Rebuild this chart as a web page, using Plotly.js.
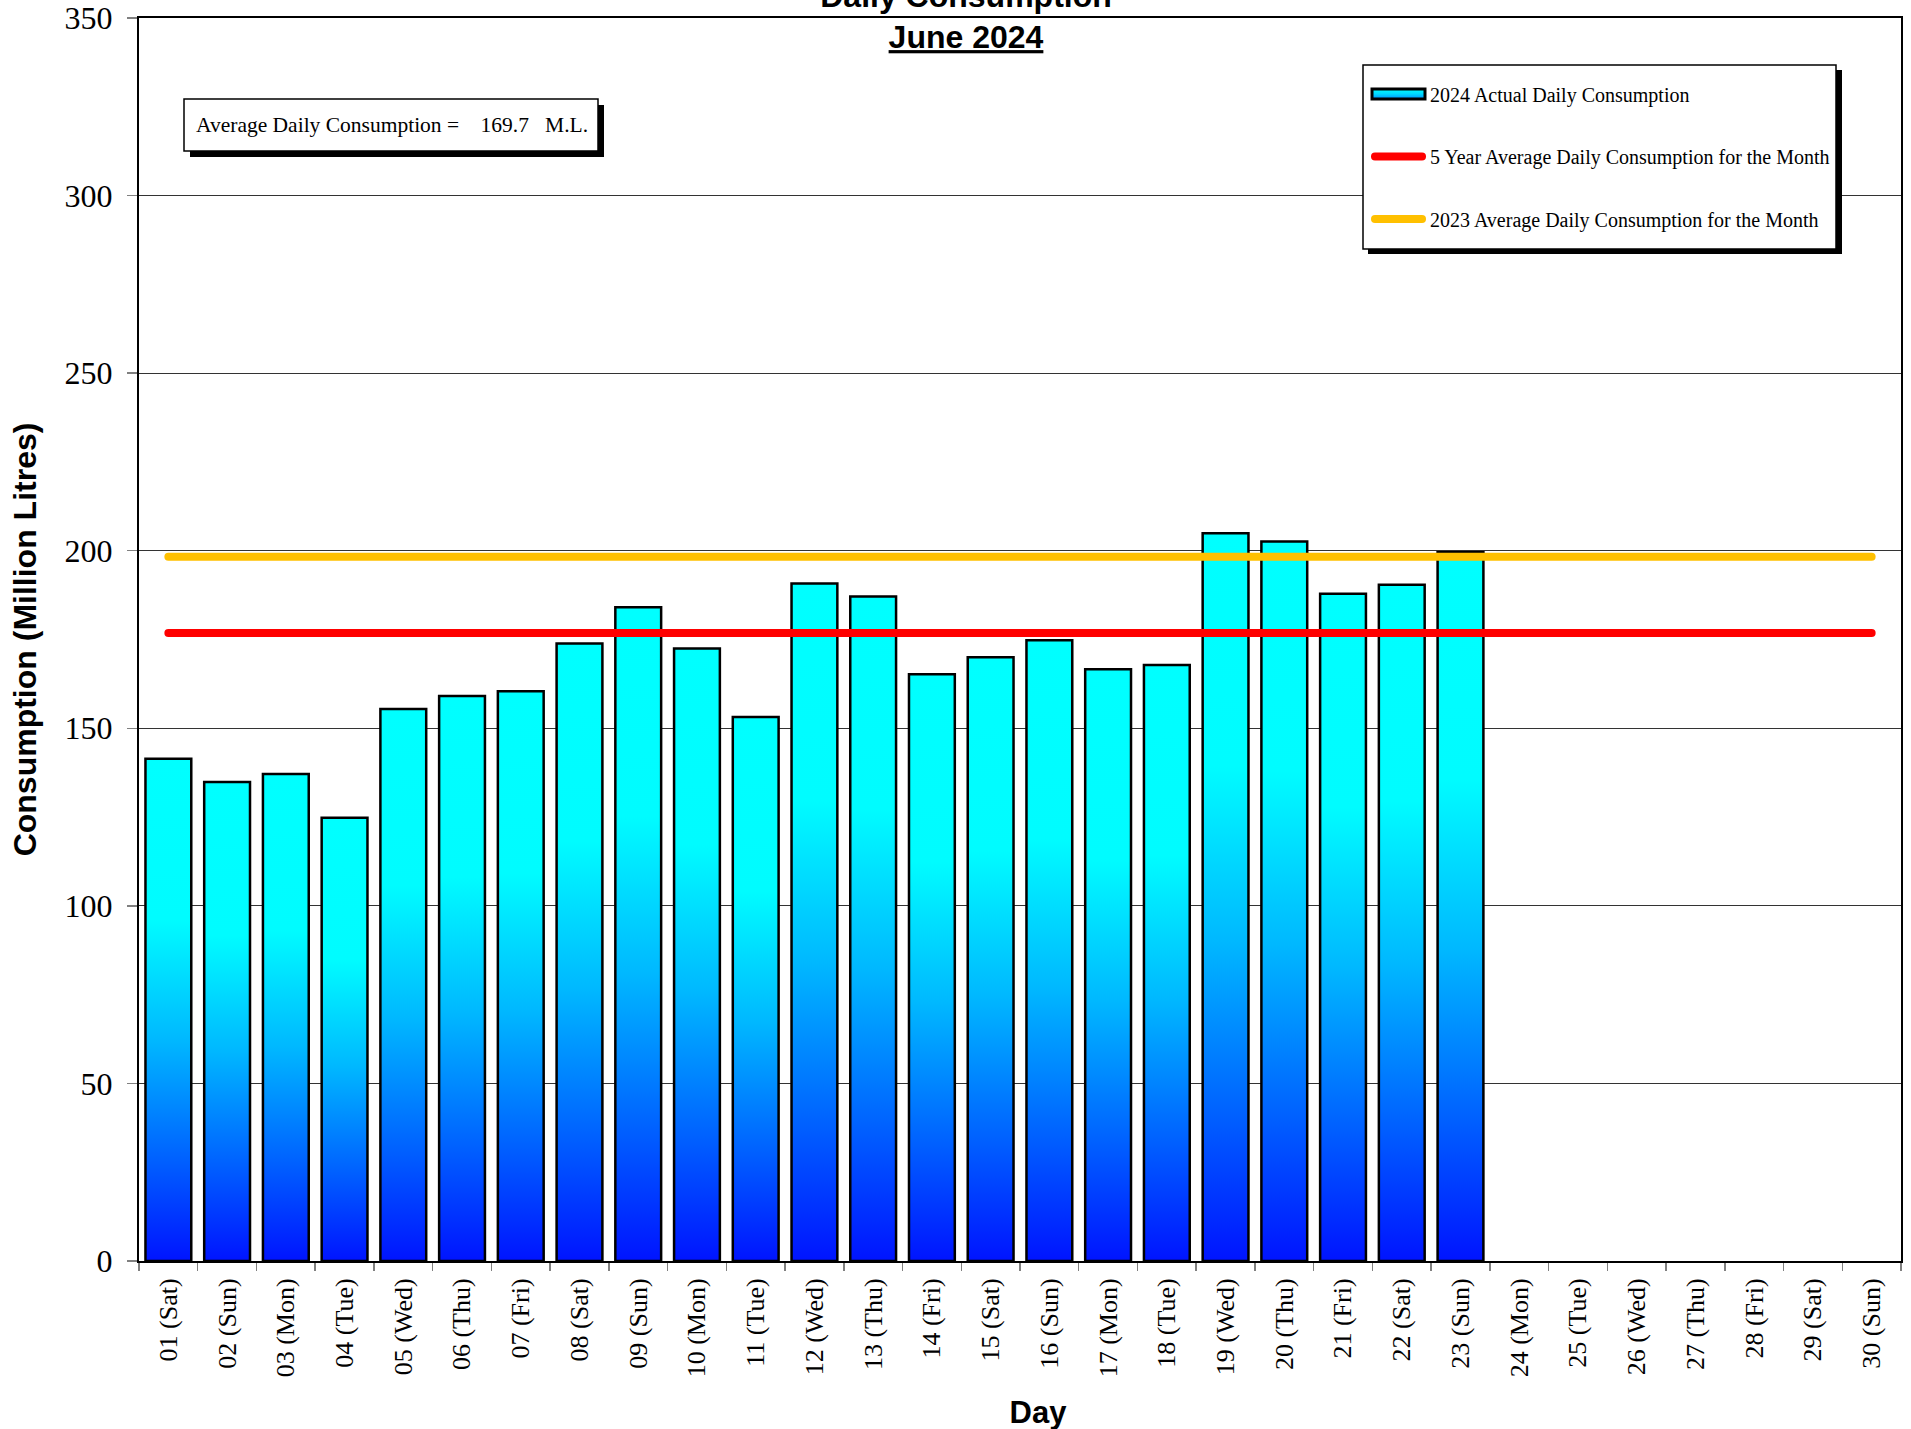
<!DOCTYPE html>
<html>
<head>
<meta charset="utf-8">
<script src="https://cdn.plot.ly/plotly-3.0.1.min.js"></script>
<style>
html,body{margin:0;padding:0;background:#fff;}
#chart{width:1911px;height:1429px;}
</style>
</head>
<body>
<div id="chart"></div>
<script>
// ---------------- DATA ----------------
const days = ['01 (Sat)','02 (Sun)','03 (Mon)','04 (Tue)','05 (Wed)','06 (Thu)','07 (Fri)',
  '08 (Sat)','09 (Sun)','10 (Mon)','11 (Tue)','12 (Wed)','13 (Thu)','14 (Fri)','15 (Sat)',
  '16 (Sun)','17 (Mon)','18 (Tue)','19 (Wed)','20 (Thu)','21 (Fri)','22 (Sat)','23 (Sun)',
  '24 (Mon)','25 (Tue)','26 (Wed)','27 (Thu)','28 (Fri)','29 (Sat)','30 (Sun)'];
const consumption2024 = [141.4, 134.9, 137.1, 124.8, 155.4, 159.1, 160.4, 173.9, 184.1, 172.5,
  153.2, 190.8, 187.1, 165.2, 170.0, 174.8, 166.6, 167.8, 204.9, 202.6, 187.9, 190.4, 199.6];
const fiveYearAvg = 176.8;
const avg2023 = 198.3;
const avgDaily = 169.7;
const seriesNames = ['2024 Actual Daily Consumption',
  '5 Year Average Daily Consumption for the Month',
  '2023 Average Daily Consumption for the Month'];
const yTicks = [0, 50, 100, 150, 200, 250, 300, 350];

// ---------------- GEOMETRY ----------------
const W = 1911, H = 1429, L = 139, R = 1901, T = 18, B = 1261;
const px2x = p => (p - L) / (R - L);
const px2y = p => (B - p) / (B - T);

const serif = 'Liberation Serif, Times New Roman, serif';
const sans = 'Liberation Sans, Arial, sans-serif';

const traces = [
  {
    type: 'bar', name: seriesNames[0], legendgroup: 'g1',
    x: days.slice(0, consumption2024.length), y: consumption2024,
    marker: {color: '#00C8FF', line: {color: '#000', width: 2.5}}
  },
  {
    type: 'scatter', mode: 'lines', name: seriesNames[1], legendgroup: 'g2',
    x: [days[0], days[days.length - 1]], y: [fiveYearAvg, fiveYearAvg],
    line: {color: '#FF0000', width: 8}
  },
  {
    type: 'scatter', mode: 'lines', name: seriesNames[2], legendgroup: 'g3',
    x: [days[0], days[days.length - 1]], y: [avg2023, avg2023],
    line: {color: '#FFC000', width: 8}
  }
];

const layout = {
  width: W, height: H,
  margin: {l: L, r: W - R, t: T, b: H - B, pad: 0},
  paper_bgcolor: '#fff', plot_bgcolor: '#fff',
  bargap: 0.22,
  showlegend: true,
  font: {family: serif, color: '#000'},
  title: {
    text: 'Daily Consumption<br><u>June 2024</u>',
    font: {family: sans, size: 32, weight: 'bold', color: '#000'},
    xref: 'paper', x: px2x(966), xanchor: 'center',
    yref: 'container', y: 1 - 6.5 / H, yanchor: 'middle'
  },
  xaxis: {
    type: 'category', categoryorder: 'array', categoryarray: days,
    range: [-0.5, days.length - 0.5],
    tickmode: 'linear', tick0: 0, dtick: 1,
    tickson: 'boundaries', ticks: 'outside', ticklen: 8, tickwidth: 1.5, tickcolor: '#808080',
    tickangle: -90, ticklabelstandoff: 5,
    tickfont: {family: serif, size: 26, color: '#000'},
    showline: true, linecolor: '#000', linewidth: 2, mirror: true,
    showgrid: false, zeroline: false, fixedrange: true,
    title: {text: 'Day', font: {family: sans, size: 31, weight: 'bold', color: '#000'}, standoff: 25}
  },
  yaxis: {
    range: [0, 350], tickmode: 'array', tickvals: yTicks, ticktext: yTicks.map(String),
    ticks: 'outside', ticklen: 10, tickwidth: 1.5, tickcolor: '#808080', ticklabelstandoff: 8,
    tickfont: {family: serif, size: 32, color: '#000'},
    showline: true, linecolor: '#000', linewidth: 2, mirror: true,
    showgrid: true, gridcolor: '#333333', gridwidth: 1, zeroline: false, fixedrange: true,
    title: {text: 'Consumption (Million Litres)', font: {family: sans, size: 32, weight: 'bold', color: '#000'}, standoff: 18}
  },
  legend: {
    xref: 'paper', yref: 'paper',
    x: px2x(1367), xanchor: 'left', y: px2y(74.5), yanchor: 'top',
    bgcolor: 'rgba(0,0,0,0)', borderwidth: 0,
    font: {family: serif, size: 20, color: '#000'},
    itemwidth: 53, tracegroupgap: 33.5, traceorder: 'grouped'
  },
  shapes: [
    // legend shadow + box
    {type: 'rect', xref: 'paper', yref: 'paper', layer: 'above',
      x0: px2x(1368), x1: px2x(1842), y0: px2y(254), y1: px2y(70),
      fillcolor: '#000', line: {width: 0}},
    {type: 'rect', xref: 'paper', yref: 'paper', layer: 'above',
      x0: px2x(1363), x1: px2x(1836), y0: px2y(249), y1: px2y(65),
      fillcolor: '#fff', line: {color: '#000', width: 1.5}},
    // average box shadow + box
    {type: 'rect', xref: 'paper', yref: 'paper', layer: 'above',
      x0: px2x(190), x1: px2x(604), y0: px2y(157), y1: px2y(105),
      fillcolor: '#000', line: {width: 0}},
    {type: 'rect', xref: 'paper', yref: 'paper', layer: 'above',
      x0: px2x(184), x1: px2x(598), y0: px2y(151), y1: px2y(99),
      fillcolor: '#fff', line: {color: '#000', width: 1.5}}
  ],
  annotations: [
    {xref: 'paper', yref: 'paper', x: px2x(195), y: px2y(125), xanchor: 'left', yanchor: 'middle',
      showarrow: false, borderpad: 0,
      text: 'Average Daily Consumption =\u00a0\u00a0\u00a0\u00a0' + avgDaily.toFixed(1) + '\u00a0\u00a0\u00a0M.L.',
      font: {family: serif, size: 21.5, color: '#000'}}
  ]
};

const NS = 'http://www.w3.org/2000/svg';
function makeGrad(id, stops, horizontal) {
  const g = document.createElementNS(NS, 'linearGradient');
  g.setAttribute('id', id);
  g.setAttribute('x1', '0'); g.setAttribute('y1', '0');
  g.setAttribute('x2', horizontal ? '1' : '0'); g.setAttribute('y2', horizontal ? '0' : '1');
  stops.forEach(s => {
    const st = document.createElementNS(NS, 'stop');
    st.setAttribute('offset', s[0]);
    st.setAttribute('stop-color', s[1]);
    g.appendChild(st);
  });
  return g;
}

function decorate() {
  const gd = document.getElementById('chart');
  const svg = gd.querySelector('svg.main-svg');
  if (!svg) return;
  if (!document.getElementById('barGrad')) {
    const defs = document.createElementNS(NS, 'defs');
    defs.appendChild(makeGrad('barGrad', [['0', '#00FFFF'], ['0.32', '#00FCFF'], ['0.56', '#00B8FF'], ['0.8', '#0060FF'], ['1', '#0014FF']], false));
    defs.appendChild(makeGrad('barGradLeg', [['0', '#00FFFF'], ['0.5', '#00D8FF'], ['1', '#0090FF']], false));
    svg.insertBefore(defs, svg.firstChild);
  }
  gd.querySelectorAll('.barlayer .point path').forEach(p => { p.style.fill = 'url(#barGrad)'; });
  gd.querySelectorAll('.scatterlayer .js-line').forEach(p => { p.style.strokeLinecap = 'round'; });
  const xt = gd.querySelector('.g-xtitle');
  if (xt) xt.setAttribute('transform', 'translate(18,0)');
  const items = gd.querySelectorAll('.legend .traces');
  items.forEach((it, i) => {
    if (i === 0) {
      const g = it.querySelector('.legendpoints');
      const p = it.querySelector('.legendpoints path');
      if (g) g.removeAttribute('transform');
      if (p) {
        p.removeAttribute('transform');
        p.setAttribute('d', 'M5,-5h53v10h-53Z');
        p.style.fill = 'url(#barGradLeg)';
        p.style.strokeWidth = '3px';
        p.style.stroke = '#000';
      }
    } else {
      const p = it.querySelector('.legendlines path');
      if (p) { p.setAttribute('d', 'M8,0h47'); p.style.strokeLinecap = 'round'; }
    }
  });
}

Plotly.newPlot('chart', traces, layout, {displayModeBar: false, staticPlot: true}).then(gd => {
  decorate();
  gd.on('plotly_afterplot', decorate);
});
</script>
</body>
</html>
